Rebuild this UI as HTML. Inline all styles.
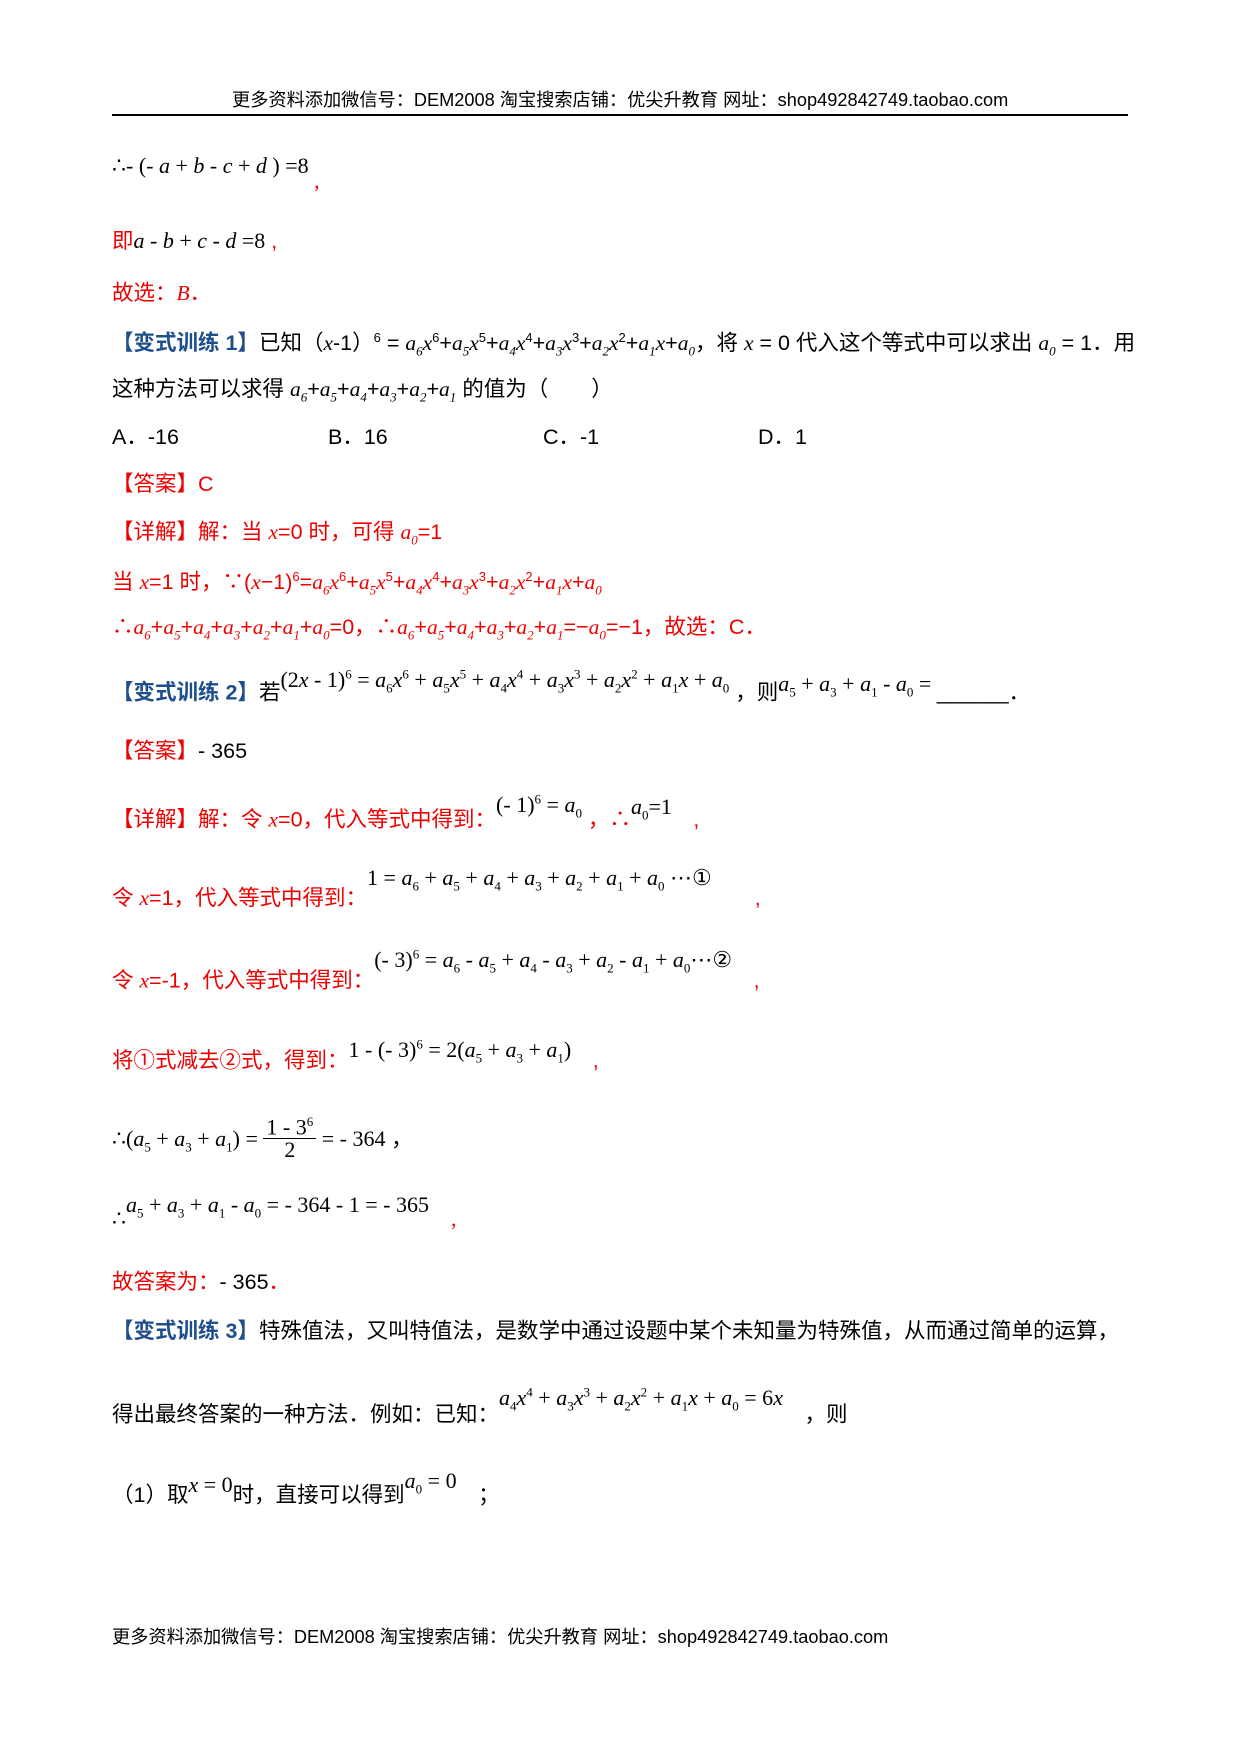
<!DOCTYPE html>
<html><head><meta charset="utf-8"><style>
body{margin:0;width:1240px;height:1754px;background:#fff;position:relative;font-family:"Liberation Sans","Noto Sans CJK SC",sans-serif;font-size:21.5px;color:#000;overflow:hidden}
.l{position:absolute;left:112px;white-space:nowrap;line-height:1}
.r{color:#e00}.b{color:#1f4e8c;font-weight:bold}
.m{font-family:"Liberation Serif",serif;font-style:italic}
.n{font-family:"Liberation Serif",serif;font-size:22px;letter-spacing:0}
sup,sub{font-size:13px}
.h{font-size:18.2px}
</style></head><body>
<div class="l h" style="left:232px;top:91px">更多资料添加微信号：DEM2008 淘宝搜索店铺：优尖升教育 网址：shop492842749.taobao.com</div>
<div style="position:absolute;left:112px;top:114px;width:1016px;height:2px;background:#000"></div>
<div class="l n" style="top:155px">∴- (- <i>a</i> + <i>b</i> - <i>c</i> + <i>d</i> ) =8 <span class="r" style="position:relative;top:15px">,</span></div>
<div class="l r" style="top:230px">即<span class="n" style="color:#000"><i>a</i> - <i>b</i> + <i>c</i> - <i>d</i> =8</span> ,</div>
<div class="l r" style="top:283px">故选：<i class="m">B</i>．</div>
<div class="l" style="top:331px"><span class="b">【变式训练 1】</span>已知（<i class="m">x</i>-1）<sup>6</sup> = <i class="m">a<sub>6</sub>x</i><sup>6</sup>+<i class="m">a<sub>5</sub>x</i><sup>5</sup>+<i class="m">a<sub>4</sub>x</i><sup>4</sup>+<i class="m">a<sub>3</sub>x</i><sup>3</sup>+<i class="m">a<sub>2</sub>x</i><sup>2</sup>+<i class="m">a<sub>1</sub>x</i>+<i class="m">a<sub>0</sub></i>，将 <i class="m">x</i> = 0 代入这个等式中可以求出 <i class="m">a<sub>0</sub></i> = 1．用</div>
<div class="l" style="top:379px">这种方法可以求得 <i class="m">a<sub>6</sub></i>+<i class="m">a<sub>5</sub></i>+<i class="m">a<sub>4</sub></i>+<i class="m">a<sub>3</sub></i>+<i class="m">a<sub>2</sub></i>+<i class="m">a<sub>1</sub></i> 的值为（　　）</div>
<div class="l" style="top:427px">A．-16</div>
<div class="l" style="top:427px;left:328px">B．16</div>
<div class="l" style="top:427px;left:543px">C．-1</div>
<div class="l" style="top:427px;left:758px">D．1</div>
<div class="l r" style="top:474px">【答案】C</div>
<div class="l r" style="top:522px">【详解】解：当 <i class="m">x</i>=0 时，可得 <i class="m">a<sub>0</sub></i>=1</div>
<div class="l r" style="top:570px">当 <i class="m">x</i>=1 时，∵(<i class="m">x</i>−1)<sup>6</sup>=<i class="m">a<sub>6</sub>x</i><sup>6</sup>+<i class="m">a<sub>5</sub>x</i><sup>5</sup>+<i class="m">a<sub>4</sub>x</i><sup>4</sup>+<i class="m">a<sub>3</sub>x</i><sup>3</sup>+<i class="m">a<sub>2</sub>x</i><sup>2</sup>+<i class="m">a<sub>1</sub>x</i>+<i class="m">a<sub>0</sub></i></div>
<div class="l r" style="top:617px">∴<i class="m">a<sub>6</sub></i>+<i class="m">a<sub>5</sub></i>+<i class="m">a<sub>4</sub></i>+<i class="m">a<sub>3</sub></i>+<i class="m">a<sub>2</sub></i>+<i class="m">a<sub>1</sub></i>+<i class="m">a<sub>0</sub></i>=0，∴<i class="m">a<sub>6</sub></i>+<i class="m">a<sub>5</sub></i>+<i class="m">a<sub>4</sub></i>+<i class="m">a<sub>3</sub></i>+<i class="m">a<sub>2</sub></i>+<i class="m">a<sub>1</sub></i>=−<i class="m">a<sub>0</sub></i>=−1，故选：C．</div>
<div class="l" style="top:680px"><span class="b">【变式训练 2】</span>若<span class="n" style="position:relative;top:-12px">(2<i>x</i> - 1)<sup>6</sup> = <i>a</i><sub>6</sub><i>x</i><sup>6</sup> + <i>a</i><sub>5</sub><i>x</i><sup>5</sup> + <i>a</i><sub>4</sub><i>x</i><sup>4</sup> + <i>a</i><sub>3</sub><i>x</i><sup>3</sup> + <i>a</i><sub>2</sub><i>x</i><sup>2</sup> + <i>a</i><sub>1</sub><i>x</i> + <i>a</i><sub>0</sub></span> ，则<span class="n" style="position:relative;top:-8px"><i>a</i><sub>5</sub> + <i>a</i><sub>3</sub> + <i>a</i><sub>1</sub> - <i>a</i><sub>0</sub> = </span>______．</div>
<div class="l" style="top:741px"><span class="r">【答案】</span>- 365</div>
<div class="l r" style="top:807px">【详解】解：令 <i class="m">x</i>=0，代入等式中得到：<span class="n" style="color:#000;position:relative;top:-14px">(- 1)<sup>6</sup> = <i>a</i><sub>0</sub></span> ，∴<span class="n" style="color:#000;position:relative;top:-12px"><i>a</i><sub>0</sub>=1</span>　,</div>
<div class="l r" style="top:887px">令 <i class="m">x</i>=1，代入等式中得到：<span class="n" style="color:#000;position:relative;top:-20px">1 = <i>a</i><sub>6</sub> + <i>a</i><sub>5</sub> + <i>a</i><sub>4</sub> + <i>a</i><sub>3</sub> + <i>a</i><sub>2</sub> + <i>a</i><sub>1</sub> + <i>a</i><sub>0</sub> ⋯①</span>　　,</div>
<div class="l r" style="top:968px">令 <i class="m">x</i>=-1，代入等式中得到：<span class="n" style="color:#000;position:relative;top:-20px">(- 3)<sup>6</sup> = <i>a</i><sub>6</sub> - <i>a</i><sub>5</sub> + <i>a</i><sub>4</sub> - <i>a</i><sub>3</sub> + <i>a</i><sub>2</sub> - <i>a</i><sub>1</sub> + <i>a</i><sub>0</sub>⋯②</span>　,</div>
<div class="l r" style="top:1048px">将①式减去②式，得到：<span class="n" style="color:#000;position:relative;top:-10px">1 - (- 3)<sup>6</sup> = 2(<i>a</i><sub>5</sub> + <i>a</i><sub>3</sub> + <i>a</i><sub>1</sub>)</span>　,</div>
<div class="l n" style="top:1118px">∴(<i>a</i><sub>5</sub> + <i>a</i><sub>3</sub> + <i>a</i><sub>1</sub>) = <span style="display:inline-block;vertical-align:middle;text-align:center;position:relative;top:-3px"><span style="display:block;border-bottom:1px solid #000;padding:0 3px">1 - 3<sup>6</sup></span><span style="display:block">2</span></span> = - 364 ，</div>
<div class="l n" style="top:1208px">∴<span style="position:relative;top:-14px"><i>a</i><sub>5</sub> + <i>a</i><sub>3</sub> + <i>a</i><sub>1</sub> - <i>a</i><sub>0</sub> = - 364 - 1 = - 365</span>　<span class="r">,</span></div>
<div class="l r" style="top:1272px">故答案为：<span style="color:#000">- 365</span>．</div>
<div class="l" style="top:1321px"><span class="b">【变式训练 3】</span>特殊值法，又叫特值法，是数学中通过设题中某个未知量为特殊值，从而通过简单的运算，</div>
<div class="l" style="top:1402px">得出最终答案的一种方法．例如：已知：<span class="n" style="position:relative;top:-16px"><i>a</i><sub>4</sub><i>x</i><sup>4</sup> + <i>a</i><sub>3</sub><i>x</i><sup>3</sup> + <i>a</i><sub>2</sub><i>x</i><sup>2</sup> + <i>a</i><sub>1</sub><i>x</i> + <i>a</i><sub>0</sub> = 6<i>x</i></span>　，则</div>
<div class="l" style="top:1484px">（1）取<span class="n" style="position:relative;top:-10px"><i>x</i> = 0</span>时，直接可以得到<span class="n" style="position:relative;top:-14px"><i>a</i><sub>0</sub> = 0</span>　；</div>
<div class="l h" style="top:1628px">更多资料添加微信号：DEM2008 淘宝搜索店铺：优尖升教育 网址：shop492842749.taobao.com</div>
</body></html>
